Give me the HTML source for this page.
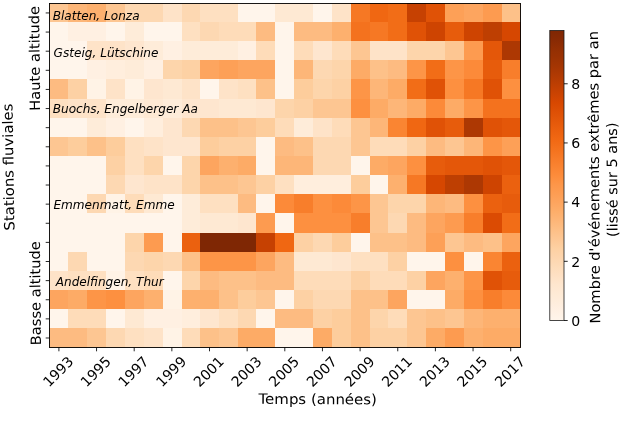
<!DOCTYPE html><html><head><meta charset="utf-8"><style>html,body{margin:0;padding:0;background:#fff}svg{display:block}text{font-family:"DejaVu Sans","Liberation Sans",sans-serif;fill:#000}</style></head><body>
<svg width="620" height="423" viewBox="0 0 620 423">
<rect width="620" height="423" fill="#fff"/>
<g shape-rendering="crispEdges">
<rect x="49" y="3" width="19" height="19" fill="#fdc692"/>
<rect x="68" y="3" width="19" height="19" fill="#fdb678"/>
<rect x="87" y="3" width="19" height="19" fill="#fdb06e"/>
<rect x="106" y="3" width="19" height="19" fill="#fdc692"/>
<rect x="125" y="3" width="38" height="19" fill="#fdd8b2"/>
<rect x="163" y="3" width="19" height="19" fill="#fee3c8"/>
<rect x="182" y="3" width="18" height="19" fill="#fdd8b2"/>
<rect x="200" y="3" width="38" height="19" fill="#fee0c1"/>
<rect x="238" y="3" width="37" height="19" fill="#fff5eb"/>
<rect x="275" y="3" width="38" height="19" fill="#fee9d3"/>
<rect x="313" y="3" width="19" height="19" fill="#fff5eb"/>
<rect x="332" y="3" width="19" height="19" fill="#fee3c8"/>
<rect x="351" y="3" width="19" height="19" fill="#f67824"/>
<rect x="370" y="3" width="18" height="19" fill="#f06712"/>
<rect x="388" y="3" width="19" height="19" fill="#f26d17"/>
<rect x="407" y="3" width="19" height="19" fill="#c64102"/>
<rect x="426" y="3" width="19" height="19" fill="#e05206"/>
<rect x="445" y="3" width="19" height="19" fill="#fda057"/>
<rect x="464" y="3" width="19" height="19" fill="#fda55f"/>
<rect x="483" y="3" width="19" height="19" fill="#fd9b50"/>
<rect x="502" y="3" width="19" height="19" fill="#fdc189"/>
<rect x="49" y="22" width="19" height="19" fill="#fff5eb"/>
<rect x="68" y="22" width="38" height="19" fill="#fff0e2"/>
<rect x="106" y="22" width="19" height="19" fill="#fff5eb"/>
<rect x="125" y="22" width="19" height="19" fill="#feecd9"/>
<rect x="144" y="22" width="38" height="19" fill="#fff5eb"/>
<rect x="182" y="22" width="18" height="19" fill="#fee0c1"/>
<rect x="200" y="22" width="19" height="19" fill="#fdd8b2"/>
<rect x="219" y="22" width="37" height="19" fill="#fedcb9"/>
<rect x="256" y="22" width="19" height="19" fill="#fdbb81"/>
<rect x="275" y="22" width="19" height="19" fill="#fff5eb"/>
<rect x="294" y="22" width="38" height="19" fill="#fdbb81"/>
<rect x="332" y="22" width="19" height="19" fill="#fdb06e"/>
<rect x="351" y="22" width="19" height="19" fill="#f4721e"/>
<rect x="370" y="22" width="18" height="19" fill="#f67824"/>
<rect x="388" y="22" width="19" height="19" fill="#f26d17"/>
<rect x="407" y="22" width="19" height="19" fill="#e05206"/>
<rect x="426" y="22" width="19" height="19" fill="#ce4401"/>
<rect x="445" y="22" width="19" height="19" fill="#e75c0c"/>
<rect x="464" y="22" width="19" height="19" fill="#ce4401"/>
<rect x="483" y="22" width="19" height="19" fill="#be3f02"/>
<rect x="502" y="22" width="19" height="19" fill="#d64701"/>
<rect x="49" y="41" width="38" height="19" fill="#fff5eb"/>
<rect x="87" y="41" width="38" height="19" fill="#fee3c8"/>
<rect x="125" y="41" width="19" height="19" fill="#fee6cf"/>
<rect x="144" y="41" width="19" height="19" fill="#feecd9"/>
<rect x="163" y="41" width="19" height="19" fill="#fff0e2"/>
<rect x="182" y="41" width="56" height="19" fill="#feecd9"/>
<rect x="238" y="41" width="18" height="19" fill="#fff0e2"/>
<rect x="256" y="41" width="19" height="19" fill="#fedcb9"/>
<rect x="275" y="41" width="19" height="19" fill="#fff5eb"/>
<rect x="294" y="41" width="19" height="19" fill="#fedcb9"/>
<rect x="313" y="41" width="19" height="19" fill="#fee6cf"/>
<rect x="332" y="41" width="19" height="19" fill="#fedcb9"/>
<rect x="351" y="41" width="19" height="19" fill="#fdc692"/>
<rect x="370" y="41" width="37" height="19" fill="#fee3c8"/>
<rect x="407" y="41" width="38" height="19" fill="#fdd5ab"/>
<rect x="445" y="41" width="19" height="19" fill="#fdc692"/>
<rect x="464" y="41" width="19" height="19" fill="#fd9b50"/>
<rect x="483" y="41" width="19" height="19" fill="#e45709"/>
<rect x="502" y="41" width="19" height="19" fill="#ad3803"/>
<rect x="49" y="60" width="38" height="19" fill="#fff5eb"/>
<rect x="87" y="60" width="19" height="19" fill="#fff0e2"/>
<rect x="106" y="60" width="19" height="19" fill="#ffeedd"/>
<rect x="125" y="60" width="19" height="19" fill="#feecd9"/>
<rect x="144" y="60" width="19" height="19" fill="#fff0e2"/>
<rect x="163" y="60" width="19" height="19" fill="#fdd5ab"/>
<rect x="182" y="60" width="18" height="19" fill="#fdd1a4"/>
<rect x="200" y="60" width="19" height="19" fill="#fda55f"/>
<rect x="219" y="60" width="19" height="19" fill="#fda057"/>
<rect x="238" y="60" width="37" height="19" fill="#fda55f"/>
<rect x="275" y="60" width="19" height="19" fill="#fff5eb"/>
<rect x="294" y="60" width="19" height="19" fill="#fdb678"/>
<rect x="313" y="60" width="19" height="19" fill="#fdd8b2"/>
<rect x="332" y="60" width="19" height="19" fill="#fdd5ab"/>
<rect x="351" y="60" width="19" height="19" fill="#fdab66"/>
<rect x="370" y="60" width="18" height="19" fill="#fdc189"/>
<rect x="388" y="60" width="19" height="19" fill="#fdbb81"/>
<rect x="407" y="60" width="19" height="19" fill="#fd9547"/>
<rect x="426" y="60" width="19" height="19" fill="#f26d17"/>
<rect x="445" y="60" width="19" height="19" fill="#fd9547"/>
<rect x="464" y="60" width="19" height="19" fill="#fc8a39"/>
<rect x="483" y="60" width="19" height="19" fill="#e75c0c"/>
<rect x="502" y="60" width="19" height="19" fill="#f87e2b"/>
<rect x="49" y="79" width="19" height="20" fill="#fdbb81"/>
<rect x="68" y="79" width="19" height="20" fill="#fdd1a4"/>
<rect x="87" y="79" width="19" height="20" fill="#fff3e6"/>
<rect x="106" y="79" width="19" height="20" fill="#fee3c8"/>
<rect x="125" y="79" width="19" height="20" fill="#fff3e6"/>
<rect x="144" y="79" width="19" height="20" fill="#fee6cf"/>
<rect x="163" y="79" width="19" height="20" fill="#fee9d3"/>
<rect x="182" y="79" width="18" height="20" fill="#fee3c8"/>
<rect x="200" y="79" width="19" height="20" fill="#fff5eb"/>
<rect x="219" y="79" width="19" height="20" fill="#fee3c8"/>
<rect x="238" y="79" width="18" height="20" fill="#fee0c1"/>
<rect x="256" y="79" width="19" height="20" fill="#fdc189"/>
<rect x="275" y="79" width="19" height="20" fill="#fff5eb"/>
<rect x="294" y="79" width="19" height="20" fill="#fdcd9c"/>
<rect x="313" y="79" width="19" height="20" fill="#fdd5ab"/>
<rect x="332" y="79" width="19" height="20" fill="#fdd1a4"/>
<rect x="351" y="79" width="19" height="20" fill="#fd9547"/>
<rect x="370" y="79" width="18" height="20" fill="#fdb678"/>
<rect x="388" y="79" width="19" height="20" fill="#fdab66"/>
<rect x="407" y="79" width="19" height="20" fill="#f26d17"/>
<rect x="426" y="79" width="19" height="20" fill="#e05206"/>
<rect x="445" y="79" width="19" height="20" fill="#fd9040"/>
<rect x="464" y="79" width="19" height="20" fill="#f67824"/>
<rect x="483" y="79" width="19" height="20" fill="#e05206"/>
<rect x="502" y="79" width="19" height="20" fill="#fd9040"/>
<rect x="49" y="99" width="19" height="19" fill="#fee0c1"/>
<rect x="68" y="99" width="38" height="19" fill="#fee3c8"/>
<rect x="106" y="99" width="38" height="19" fill="#feecd9"/>
<rect x="144" y="99" width="19" height="19" fill="#fee9d3"/>
<rect x="163" y="99" width="19" height="19" fill="#feecd9"/>
<rect x="182" y="99" width="37" height="19" fill="#fee6cf"/>
<rect x="219" y="99" width="37" height="19" fill="#fee9d3"/>
<rect x="256" y="99" width="19" height="19" fill="#fee6cf"/>
<rect x="275" y="99" width="19" height="19" fill="#fdd5ab"/>
<rect x="294" y="99" width="19" height="19" fill="#fdd1a4"/>
<rect x="313" y="99" width="38" height="19" fill="#fdc692"/>
<rect x="351" y="99" width="19" height="19" fill="#fd9040"/>
<rect x="370" y="99" width="18" height="19" fill="#fdab66"/>
<rect x="388" y="99" width="19" height="19" fill="#fdb678"/>
<rect x="407" y="99" width="19" height="19" fill="#fdab66"/>
<rect x="426" y="99" width="19" height="19" fill="#fc8a39"/>
<rect x="445" y="99" width="19" height="19" fill="#fdab66"/>
<rect x="464" y="99" width="19" height="19" fill="#fd9547"/>
<rect x="483" y="99" width="38" height="19" fill="#f4721e"/>
<rect x="49" y="118" width="38" height="19" fill="#fff5eb"/>
<rect x="87" y="118" width="19" height="19" fill="#feecd9"/>
<rect x="106" y="118" width="19" height="19" fill="#fff0e2"/>
<rect x="125" y="118" width="19" height="19" fill="#fff5eb"/>
<rect x="144" y="118" width="19" height="19" fill="#ffeedd"/>
<rect x="163" y="118" width="19" height="19" fill="#fee6cf"/>
<rect x="182" y="118" width="18" height="19" fill="#fdd8b2"/>
<rect x="200" y="118" width="38" height="19" fill="#fdc189"/>
<rect x="238" y="118" width="18" height="19" fill="#fdc692"/>
<rect x="256" y="118" width="19" height="19" fill="#fdcd9c"/>
<rect x="275" y="118" width="19" height="19" fill="#fedcb9"/>
<rect x="294" y="118" width="19" height="19" fill="#feecd9"/>
<rect x="313" y="118" width="19" height="19" fill="#fee3c8"/>
<rect x="332" y="118" width="19" height="19" fill="#fedcb9"/>
<rect x="351" y="118" width="19" height="19" fill="#fdc692"/>
<rect x="370" y="118" width="18" height="19" fill="#fdb678"/>
<rect x="388" y="118" width="19" height="19" fill="#fa8532"/>
<rect x="407" y="118" width="19" height="19" fill="#f06712"/>
<rect x="426" y="118" width="19" height="19" fill="#e05206"/>
<rect x="445" y="118" width="19" height="19" fill="#e75c0c"/>
<rect x="464" y="118" width="19" height="19" fill="#ad3803"/>
<rect x="483" y="118" width="19" height="19" fill="#e05206"/>
<rect x="502" y="118" width="19" height="19" fill="#e45709"/>
<rect x="49" y="137" width="19" height="19" fill="#fdc692"/>
<rect x="68" y="137" width="19" height="19" fill="#fdcd9c"/>
<rect x="87" y="137" width="19" height="19" fill="#fdc189"/>
<rect x="106" y="137" width="19" height="19" fill="#fdcd9c"/>
<rect x="125" y="137" width="19" height="19" fill="#fee0c1"/>
<rect x="144" y="137" width="19" height="19" fill="#fee3c8"/>
<rect x="163" y="137" width="37" height="19" fill="#fee6cf"/>
<rect x="200" y="137" width="19" height="19" fill="#fdcd9c"/>
<rect x="219" y="137" width="37" height="19" fill="#fdd1a4"/>
<rect x="256" y="137" width="19" height="19" fill="#fff5eb"/>
<rect x="275" y="137" width="19" height="19" fill="#fdbb81"/>
<rect x="294" y="137" width="19" height="19" fill="#fdc189"/>
<rect x="313" y="137" width="38" height="19" fill="#fdd8b2"/>
<rect x="351" y="137" width="19" height="19" fill="#fdc692"/>
<rect x="370" y="137" width="37" height="19" fill="#fedcb9"/>
<rect x="407" y="137" width="19" height="19" fill="#fdd1a4"/>
<rect x="426" y="137" width="19" height="19" fill="#fdbb81"/>
<rect x="445" y="137" width="19" height="19" fill="#fdc692"/>
<rect x="464" y="137" width="19" height="19" fill="#fdb678"/>
<rect x="483" y="137" width="19" height="19" fill="#fd9547"/>
<rect x="502" y="137" width="19" height="19" fill="#fda057"/>
<rect x="49" y="156" width="57" height="19" fill="#fff5eb"/>
<rect x="106" y="156" width="19" height="19" fill="#fdd1a4"/>
<rect x="125" y="156" width="19" height="19" fill="#fee0c1"/>
<rect x="144" y="156" width="19" height="19" fill="#fdd5ab"/>
<rect x="163" y="156" width="19" height="19" fill="#fff5eb"/>
<rect x="182" y="156" width="18" height="19" fill="#fdd5ab"/>
<rect x="200" y="156" width="19" height="19" fill="#fda55f"/>
<rect x="219" y="156" width="19" height="19" fill="#fdb06e"/>
<rect x="238" y="156" width="18" height="19" fill="#fdab66"/>
<rect x="256" y="156" width="19" height="19" fill="#fff5eb"/>
<rect x="275" y="156" width="38" height="19" fill="#fdb678"/>
<rect x="313" y="156" width="38" height="19" fill="#fdd8b2"/>
<rect x="351" y="156" width="19" height="19" fill="#fff5eb"/>
<rect x="370" y="156" width="18" height="19" fill="#fdab66"/>
<rect x="388" y="156" width="19" height="19" fill="#fda55f"/>
<rect x="407" y="156" width="19" height="19" fill="#fd9040"/>
<rect x="426" y="156" width="19" height="19" fill="#e75c0c"/>
<rect x="445" y="156" width="38" height="19" fill="#e45709"/>
<rect x="483" y="156" width="19" height="19" fill="#e05206"/>
<rect x="502" y="156" width="19" height="19" fill="#e45709"/>
<rect x="49" y="175" width="57" height="19" fill="#fff5eb"/>
<rect x="106" y="175" width="19" height="19" fill="#fdd8b2"/>
<rect x="125" y="175" width="19" height="19" fill="#fee6cf"/>
<rect x="144" y="175" width="38" height="19" fill="#fee3c8"/>
<rect x="182" y="175" width="18" height="19" fill="#fdd5ab"/>
<rect x="200" y="175" width="38" height="19" fill="#fdc189"/>
<rect x="238" y="175" width="18" height="19" fill="#fdc692"/>
<rect x="256" y="175" width="19" height="19" fill="#fdd1a4"/>
<rect x="275" y="175" width="19" height="19" fill="#fee0c1"/>
<rect x="294" y="175" width="57" height="19" fill="#ffeedd"/>
<rect x="351" y="175" width="19" height="19" fill="#fdcd9c"/>
<rect x="370" y="175" width="18" height="19" fill="#fff5eb"/>
<rect x="388" y="175" width="19" height="19" fill="#fdb06e"/>
<rect x="407" y="175" width="19" height="19" fill="#f67824"/>
<rect x="426" y="175" width="19" height="19" fill="#d64701"/>
<rect x="445" y="175" width="19" height="19" fill="#be3f02"/>
<rect x="464" y="175" width="19" height="19" fill="#ad3803"/>
<rect x="483" y="175" width="19" height="19" fill="#ce4401"/>
<rect x="502" y="175" width="19" height="19" fill="#eb610f"/>
<rect x="49" y="194" width="38" height="19" fill="#fff5eb"/>
<rect x="87" y="194" width="19" height="19" fill="#fdd8b2"/>
<rect x="106" y="194" width="19" height="19" fill="#fff3e6"/>
<rect x="125" y="194" width="19" height="19" fill="#fedcb9"/>
<rect x="144" y="194" width="19" height="19" fill="#fee9d3"/>
<rect x="163" y="194" width="19" height="19" fill="#fff5eb"/>
<rect x="182" y="194" width="18" height="19" fill="#feecd9"/>
<rect x="200" y="194" width="38" height="19" fill="#fee0c1"/>
<rect x="238" y="194" width="18" height="19" fill="#fdbb81"/>
<rect x="256" y="194" width="19" height="19" fill="#fff5eb"/>
<rect x="275" y="194" width="19" height="19" fill="#fc8a39"/>
<rect x="294" y="194" width="19" height="19" fill="#f87e2b"/>
<rect x="313" y="194" width="19" height="19" fill="#fd9040"/>
<rect x="332" y="194" width="19" height="19" fill="#fc8a39"/>
<rect x="351" y="194" width="19" height="19" fill="#fd9547"/>
<rect x="370" y="194" width="18" height="19" fill="#fdc692"/>
<rect x="388" y="194" width="38" height="19" fill="#fdd5ab"/>
<rect x="426" y="194" width="19" height="19" fill="#fdb678"/>
<rect x="445" y="194" width="19" height="19" fill="#fdbb81"/>
<rect x="464" y="194" width="19" height="19" fill="#fd9040"/>
<rect x="483" y="194" width="19" height="19" fill="#eb610f"/>
<rect x="502" y="194" width="19" height="19" fill="#e75c0c"/>
<rect x="49" y="213" width="133" height="20" fill="#fff5eb"/>
<rect x="182" y="213" width="18" height="20" fill="#feecd9"/>
<rect x="200" y="213" width="38" height="20" fill="#fee9d3"/>
<rect x="238" y="213" width="18" height="20" fill="#fee6cf"/>
<rect x="256" y="213" width="19" height="20" fill="#fd9b50"/>
<rect x="275" y="213" width="19" height="20" fill="#fff5eb"/>
<rect x="294" y="213" width="57" height="20" fill="#fd9040"/>
<rect x="351" y="213" width="19" height="20" fill="#f87e2b"/>
<rect x="370" y="213" width="18" height="20" fill="#fdc692"/>
<rect x="388" y="213" width="19" height="20" fill="#fdd8b2"/>
<rect x="407" y="213" width="19" height="20" fill="#fdbb81"/>
<rect x="426" y="213" width="19" height="20" fill="#fda55f"/>
<rect x="445" y="213" width="19" height="20" fill="#fd9b50"/>
<rect x="464" y="213" width="19" height="20" fill="#f87e2b"/>
<rect x="483" y="213" width="19" height="20" fill="#db4b03"/>
<rect x="502" y="213" width="19" height="20" fill="#f26d17"/>
<rect x="49" y="233" width="76" height="19" fill="#fff5eb"/>
<rect x="125" y="233" width="19" height="19" fill="#fdd5ab"/>
<rect x="144" y="233" width="19" height="19" fill="#fd9b50"/>
<rect x="163" y="233" width="19" height="19" fill="#fff5eb"/>
<rect x="182" y="233" width="18" height="19" fill="#eb610f"/>
<rect x="200" y="233" width="56" height="19" fill="#7f2704"/>
<rect x="256" y="233" width="19" height="19" fill="#c64102"/>
<rect x="275" y="233" width="19" height="19" fill="#f06712"/>
<rect x="294" y="233" width="19" height="19" fill="#fdd1a4"/>
<rect x="313" y="233" width="19" height="19" fill="#fdd8b2"/>
<rect x="332" y="233" width="19" height="19" fill="#fdcd9c"/>
<rect x="351" y="233" width="19" height="19" fill="#fff5eb"/>
<rect x="370" y="233" width="37" height="19" fill="#fdc189"/>
<rect x="407" y="233" width="19" height="19" fill="#fdbb81"/>
<rect x="426" y="233" width="19" height="19" fill="#fda057"/>
<rect x="445" y="233" width="19" height="19" fill="#fdc692"/>
<rect x="464" y="233" width="19" height="19" fill="#fdbb81"/>
<rect x="483" y="233" width="19" height="19" fill="#fdc189"/>
<rect x="502" y="233" width="19" height="19" fill="#fda55f"/>
<rect x="49" y="252" width="19" height="19" fill="#fff5eb"/>
<rect x="68" y="252" width="19" height="19" fill="#fdd8b2"/>
<rect x="87" y="252" width="38" height="19" fill="#fff5eb"/>
<rect x="125" y="252" width="19" height="19" fill="#fdd8b2"/>
<rect x="144" y="252" width="19" height="19" fill="#fdd5ab"/>
<rect x="163" y="252" width="19" height="19" fill="#fdd8b2"/>
<rect x="182" y="252" width="18" height="19" fill="#fdc189"/>
<rect x="200" y="252" width="56" height="19" fill="#fd9547"/>
<rect x="256" y="252" width="19" height="19" fill="#fda55f"/>
<rect x="275" y="252" width="19" height="19" fill="#fdbb81"/>
<rect x="294" y="252" width="38" height="19" fill="#fee9d3"/>
<rect x="332" y="252" width="19" height="19" fill="#fee6cf"/>
<rect x="351" y="252" width="37" height="19" fill="#fee0c1"/>
<rect x="388" y="252" width="19" height="19" fill="#fdd1a4"/>
<rect x="407" y="252" width="38" height="19" fill="#fff5eb"/>
<rect x="445" y="252" width="19" height="19" fill="#fd9040"/>
<rect x="464" y="252" width="19" height="19" fill="#fff5eb"/>
<rect x="483" y="252" width="19" height="19" fill="#fa8532"/>
<rect x="502" y="252" width="19" height="19" fill="#eb610f"/>
<rect x="49" y="271" width="19" height="19" fill="#fee3c8"/>
<rect x="68" y="271" width="38" height="19" fill="#fee0c1"/>
<rect x="106" y="271" width="19" height="19" fill="#fff3e6"/>
<rect x="125" y="271" width="19" height="19" fill="#fee0c1"/>
<rect x="144" y="271" width="19" height="19" fill="#fedcb9"/>
<rect x="163" y="271" width="19" height="19" fill="#fff5eb"/>
<rect x="182" y="271" width="18" height="19" fill="#fdd5ab"/>
<rect x="200" y="271" width="19" height="19" fill="#fdbb81"/>
<rect x="219" y="271" width="37" height="19" fill="#fdc189"/>
<rect x="256" y="271" width="38" height="19" fill="#fdbb81"/>
<rect x="294" y="271" width="57" height="19" fill="#fedcb9"/>
<rect x="351" y="271" width="19" height="19" fill="#fdd1a4"/>
<rect x="370" y="271" width="37" height="19" fill="#fedcb9"/>
<rect x="407" y="271" width="19" height="19" fill="#fdd1a4"/>
<rect x="426" y="271" width="19" height="19" fill="#fda55f"/>
<rect x="445" y="271" width="19" height="19" fill="#fdb06e"/>
<rect x="464" y="271" width="19" height="19" fill="#fd9547"/>
<rect x="483" y="271" width="19" height="19" fill="#e05206"/>
<rect x="502" y="271" width="19" height="19" fill="#e75c0c"/>
<rect x="49" y="290" width="19" height="19" fill="#fda55f"/>
<rect x="68" y="290" width="19" height="19" fill="#fdab66"/>
<rect x="87" y="290" width="19" height="19" fill="#fd9547"/>
<rect x="106" y="290" width="19" height="19" fill="#fd9040"/>
<rect x="125" y="290" width="19" height="19" fill="#fda55f"/>
<rect x="144" y="290" width="19" height="19" fill="#fdb06e"/>
<rect x="163" y="290" width="19" height="19" fill="#fff3e6"/>
<rect x="182" y="290" width="37" height="19" fill="#fdb06e"/>
<rect x="219" y="290" width="19" height="19" fill="#fdc189"/>
<rect x="238" y="290" width="18" height="19" fill="#fdcd9c"/>
<rect x="256" y="290" width="19" height="19" fill="#fdc692"/>
<rect x="275" y="290" width="19" height="19" fill="#fff5eb"/>
<rect x="294" y="290" width="19" height="19" fill="#fdd1a4"/>
<rect x="313" y="290" width="38" height="19" fill="#fdd8b2"/>
<rect x="351" y="290" width="37" height="19" fill="#fdc189"/>
<rect x="388" y="290" width="19" height="19" fill="#fda55f"/>
<rect x="407" y="290" width="38" height="19" fill="#fff5eb"/>
<rect x="445" y="290" width="19" height="19" fill="#fdab66"/>
<rect x="464" y="290" width="19" height="19" fill="#fd9040"/>
<rect x="483" y="290" width="19" height="19" fill="#f87e2b"/>
<rect x="502" y="290" width="19" height="19" fill="#fc8a39"/>
<rect x="49" y="309" width="19" height="19" fill="#fff5eb"/>
<rect x="68" y="309" width="38" height="19" fill="#fedcb9"/>
<rect x="106" y="309" width="19" height="19" fill="#fff5eb"/>
<rect x="125" y="309" width="19" height="19" fill="#fee9d3"/>
<rect x="144" y="309" width="38" height="19" fill="#fff0e2"/>
<rect x="182" y="309" width="18" height="19" fill="#ffeedd"/>
<rect x="200" y="309" width="19" height="19" fill="#fee6cf"/>
<rect x="219" y="309" width="19" height="19" fill="#fee0c1"/>
<rect x="238" y="309" width="18" height="19" fill="#fdd8b2"/>
<rect x="256" y="309" width="19" height="19" fill="#fff5eb"/>
<rect x="275" y="309" width="38" height="19" fill="#fdbb81"/>
<rect x="313" y="309" width="19" height="19" fill="#fdd1a4"/>
<rect x="332" y="309" width="19" height="19" fill="#fdcd9c"/>
<rect x="351" y="309" width="19" height="19" fill="#fdc189"/>
<rect x="370" y="309" width="18" height="19" fill="#fdd5ab"/>
<rect x="388" y="309" width="19" height="19" fill="#fedcb9"/>
<rect x="407" y="309" width="19" height="19" fill="#fdc692"/>
<rect x="426" y="309" width="19" height="19" fill="#fdc189"/>
<rect x="445" y="309" width="19" height="19" fill="#fdc692"/>
<rect x="464" y="309" width="19" height="19" fill="#fdb678"/>
<rect x="483" y="309" width="38" height="19" fill="#fdb06e"/>
<rect x="49" y="328" width="38" height="20" fill="#fdbb81"/>
<rect x="87" y="328" width="19" height="20" fill="#fdc692"/>
<rect x="106" y="328" width="19" height="20" fill="#fdd8b2"/>
<rect x="125" y="328" width="19" height="20" fill="#fee0c1"/>
<rect x="144" y="328" width="19" height="20" fill="#fee3c8"/>
<rect x="163" y="328" width="19" height="20" fill="#fff3e6"/>
<rect x="182" y="328" width="18" height="20" fill="#fedcb9"/>
<rect x="200" y="328" width="19" height="20" fill="#fdc189"/>
<rect x="219" y="328" width="19" height="20" fill="#fdc692"/>
<rect x="238" y="328" width="37" height="20" fill="#fdab66"/>
<rect x="275" y="328" width="38" height="20" fill="#fff5eb"/>
<rect x="313" y="328" width="19" height="20" fill="#fdab66"/>
<rect x="332" y="328" width="19" height="20" fill="#fdcd9c"/>
<rect x="351" y="328" width="19" height="20" fill="#fdc189"/>
<rect x="370" y="328" width="37" height="20" fill="#fdd1a4"/>
<rect x="407" y="328" width="19" height="20" fill="#fdc692"/>
<rect x="426" y="328" width="19" height="20" fill="#fdab66"/>
<rect x="445" y="328" width="19" height="20" fill="#fd9b50"/>
<rect x="464" y="328" width="19" height="20" fill="#fdb06e"/>
<rect x="483" y="328" width="38" height="20" fill="#fdab66"/>
</g>
<rect x="49.50" y="3.50" width="471.00" height="344.00" fill="none" stroke="#000" stroke-width="0.90"/>
<line x1="45.70" y1="12.95" x2="49.50" y2="12.95" stroke="#000" stroke-width="0.85"/>
<line x1="45.70" y1="32.07" x2="49.50" y2="32.07" stroke="#000" stroke-width="0.85"/>
<line x1="45.70" y1="51.19" x2="49.50" y2="51.19" stroke="#000" stroke-width="0.85"/>
<line x1="45.70" y1="70.31" x2="49.50" y2="70.31" stroke="#000" stroke-width="0.85"/>
<line x1="45.70" y1="89.43" x2="49.50" y2="89.43" stroke="#000" stroke-width="0.85"/>
<line x1="45.70" y1="108.55" x2="49.50" y2="108.55" stroke="#000" stroke-width="0.85"/>
<line x1="45.70" y1="127.67" x2="49.50" y2="127.67" stroke="#000" stroke-width="0.85"/>
<line x1="45.70" y1="146.79" x2="49.50" y2="146.79" stroke="#000" stroke-width="0.85"/>
<line x1="45.70" y1="165.91" x2="49.50" y2="165.91" stroke="#000" stroke-width="0.85"/>
<line x1="45.70" y1="185.03" x2="49.50" y2="185.03" stroke="#000" stroke-width="0.85"/>
<line x1="45.70" y1="204.15" x2="49.50" y2="204.15" stroke="#000" stroke-width="0.85"/>
<line x1="45.70" y1="223.27" x2="49.50" y2="223.27" stroke="#000" stroke-width="0.85"/>
<line x1="45.70" y1="242.39" x2="49.50" y2="242.39" stroke="#000" stroke-width="0.85"/>
<line x1="45.70" y1="261.51" x2="49.50" y2="261.51" stroke="#000" stroke-width="0.85"/>
<line x1="45.70" y1="280.63" x2="49.50" y2="280.63" stroke="#000" stroke-width="0.85"/>
<line x1="45.70" y1="299.75" x2="49.50" y2="299.75" stroke="#000" stroke-width="0.85"/>
<line x1="45.70" y1="318.87" x2="49.50" y2="318.87" stroke="#000" stroke-width="0.85"/>
<line x1="45.70" y1="337.99" x2="49.50" y2="337.99" stroke="#000" stroke-width="0.85"/>
<line x1="58.90" y1="347.50" x2="58.90" y2="351.30" stroke="#000" stroke-width="0.85"/>
<text font-size="14.10" text-anchor="middle" transform="translate(58.00,371.50) rotate(-45)" y="5.14">1993</text>
<line x1="96.55" y1="347.50" x2="96.55" y2="351.30" stroke="#000" stroke-width="0.85"/>
<text font-size="14.10" text-anchor="middle" transform="translate(95.65,371.50) rotate(-45)" y="5.14">1995</text>
<line x1="134.20" y1="347.50" x2="134.20" y2="351.30" stroke="#000" stroke-width="0.85"/>
<text font-size="14.10" text-anchor="middle" transform="translate(133.30,371.50) rotate(-45)" y="5.14">1997</text>
<line x1="171.85" y1="347.50" x2="171.85" y2="351.30" stroke="#000" stroke-width="0.85"/>
<text font-size="14.10" text-anchor="middle" transform="translate(170.95,371.50) rotate(-45)" y="5.14">1999</text>
<line x1="209.50" y1="347.50" x2="209.50" y2="351.30" stroke="#000" stroke-width="0.85"/>
<text font-size="14.10" text-anchor="middle" transform="translate(208.60,371.50) rotate(-45)" y="5.14">2001</text>
<line x1="247.15" y1="347.50" x2="247.15" y2="351.30" stroke="#000" stroke-width="0.85"/>
<text font-size="14.10" text-anchor="middle" transform="translate(246.25,371.50) rotate(-45)" y="5.14">2003</text>
<line x1="284.80" y1="347.50" x2="284.80" y2="351.30" stroke="#000" stroke-width="0.85"/>
<text font-size="14.10" text-anchor="middle" transform="translate(283.90,371.50) rotate(-45)" y="5.14">2005</text>
<line x1="322.45" y1="347.50" x2="322.45" y2="351.30" stroke="#000" stroke-width="0.85"/>
<text font-size="14.10" text-anchor="middle" transform="translate(321.55,371.50) rotate(-45)" y="5.14">2007</text>
<line x1="360.10" y1="347.50" x2="360.10" y2="351.30" stroke="#000" stroke-width="0.85"/>
<text font-size="14.10" text-anchor="middle" transform="translate(359.20,371.50) rotate(-45)" y="5.14">2009</text>
<line x1="397.75" y1="347.50" x2="397.75" y2="351.30" stroke="#000" stroke-width="0.85"/>
<text font-size="14.10" text-anchor="middle" transform="translate(396.85,371.50) rotate(-45)" y="5.14">2011</text>
<line x1="435.40" y1="347.50" x2="435.40" y2="351.30" stroke="#000" stroke-width="0.85"/>
<text font-size="14.10" text-anchor="middle" transform="translate(434.50,371.50) rotate(-45)" y="5.14">2013</text>
<line x1="473.05" y1="347.50" x2="473.05" y2="351.30" stroke="#000" stroke-width="0.85"/>
<text font-size="14.10" text-anchor="middle" transform="translate(472.15,371.50) rotate(-45)" y="5.14">2015</text>
<line x1="510.70" y1="347.50" x2="510.70" y2="351.30" stroke="#000" stroke-width="0.85"/>
<text font-size="14.10" text-anchor="middle" transform="translate(509.80,371.50) rotate(-45)" y="5.14">2017</text>
<text font-size="12.10" font-style="italic" x="52.70" y="19.70">Blatten, Lonza</text>
<text font-size="12.10" font-style="italic" x="53.60" y="56.70">Gsteig, Lütschine</text>
<text font-size="12.10" font-style="italic" x="52.70" y="113.00">Buochs, Engelberger Aa</text>
<text font-size="12.10" font-style="italic" x="53.40" y="208.70">Emmenmatt, Emme</text>
<text font-size="12.10" font-style="italic" x="55.70" y="285.70">Andelfingen, Thur</text>
<text font-size="14.20" text-anchor="middle" transform="translate(13.45,167.00) rotate(-90.850) scale(1.0450,1)">Stations fluviales</text>
<text font-size="14.20" text-anchor="middle" transform="translate(39.60,58.30) rotate(-90.550) scale(1.0310,1)">Haute altitude</text>
<text font-size="14.20" text-anchor="middle" transform="translate(40.40,293.20) rotate(-90.550) scale(1.0310,1)">Basse altitude</text>
<text font-size="14.20" text-anchor="middle" transform="translate(317.70,404.10) rotate(0.29) scale(1.0530,1)">Temps (années)</text>
<defs><linearGradient id="cbg" x1="0" y1="0" x2="0" y2="1"><stop offset="0.0000" stop-color="#7f2704"/><stop offset="0.0312" stop-color="#882a04"/><stop offset="0.0625" stop-color="#932f03"/><stop offset="0.0938" stop-color="#9b3203"/><stop offset="0.1250" stop-color="#a53603"/><stop offset="0.1562" stop-color="#b13a03"/><stop offset="0.1875" stop-color="#be3f02"/><stop offset="0.2188" stop-color="#cb4302"/><stop offset="0.2500" stop-color="#d84801"/><stop offset="0.2812" stop-color="#de5005"/><stop offset="0.3125" stop-color="#e4580a"/><stop offset="0.3438" stop-color="#eb600e"/><stop offset="0.3750" stop-color="#f16813"/><stop offset="0.4062" stop-color="#f4711c"/><stop offset="0.4375" stop-color="#f77a27"/><stop offset="0.4688" stop-color="#fa8331"/><stop offset="0.5000" stop-color="#fd8c3b"/><stop offset="0.5312" stop-color="#fd9649"/><stop offset="0.5625" stop-color="#fd9d53"/><stop offset="0.5938" stop-color="#fda55f"/><stop offset="0.6250" stop-color="#fdae6a"/><stop offset="0.6562" stop-color="#fdb678"/><stop offset="0.6875" stop-color="#fdbf86"/><stop offset="0.7188" stop-color="#fdc794"/><stop offset="0.7500" stop-color="#fdd0a2"/><stop offset="0.7812" stop-color="#fdd5ad"/><stop offset="0.8125" stop-color="#fddbb8"/><stop offset="0.8438" stop-color="#fee0c3"/><stop offset="0.8750" stop-color="#fee6ce"/><stop offset="0.9062" stop-color="#feead5"/><stop offset="0.9375" stop-color="#feeddc"/><stop offset="0.9688" stop-color="#fff1e4"/><stop offset="1.0000" stop-color="#fff5eb"/></linearGradient></defs>
<rect x="549.80" y="30.50" width="14.20" height="290.00" fill="url(#cbg)" stroke="#1a1a1a" stroke-width="0.80"/>
<line x1="564.00" y1="320.50" x2="567.70" y2="320.50" stroke="#000" stroke-width="0.85"/>
<text font-size="14.10" x="571.30" y="325.75">0</text>
<line x1="564.00" y1="261.32" x2="567.70" y2="261.32" stroke="#000" stroke-width="0.85"/>
<text font-size="14.10" x="571.30" y="266.57">2</text>
<line x1="564.00" y1="202.13" x2="567.70" y2="202.13" stroke="#000" stroke-width="0.85"/>
<text font-size="14.10" x="571.30" y="207.38">4</text>
<line x1="564.00" y1="142.95" x2="567.70" y2="142.95" stroke="#000" stroke-width="0.85"/>
<text font-size="14.10" x="571.30" y="148.20">6</text>
<line x1="564.00" y1="83.77" x2="567.70" y2="83.77" stroke="#000" stroke-width="0.85"/>
<text font-size="14.10" x="571.30" y="89.02">8</text>
<text font-size="14.20" text-anchor="middle" transform="translate(599.10,177.30) rotate(-90.420) scale(1.0330,1)">Nombre d'événements extrêmes par an</text>
<text font-size="14.20" text-anchor="middle" transform="translate(617.20,179.70) rotate(-90.420) scale(1.0195,1)">(lissé sur 5 ans)</text>
</svg></body></html>
